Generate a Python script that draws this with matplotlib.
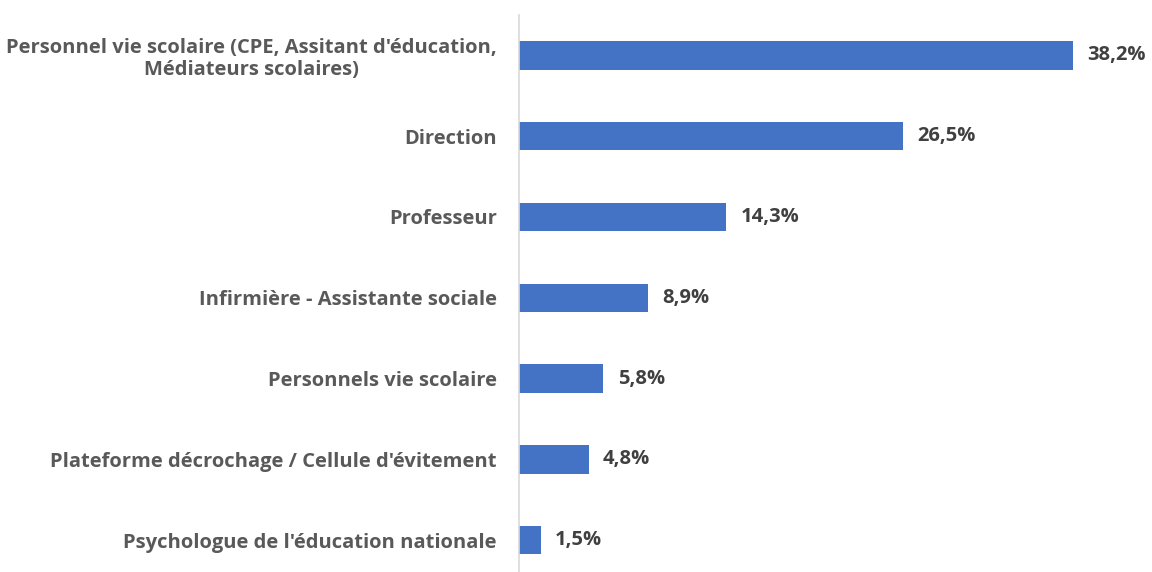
import matplotlib.pyplot as plt

categories = [
    "Personnel vie scolaire (CPE, Assitant d'éducation,\nMédiateurs scolaires)",
    "Direction",
    "Professeur",
    "Infirmière - Assistante sociale",
    "Personnels vie scolaire",
    "Plateforme décrochage / Cellule d'évitement",
    "Psychologue de l'éducation nationale",
]
values = [38.2, 26.5, 14.3, 8.9, 5.8, 4.8, 1.5]
value_labels = ["38,2%", "26,5%", "14,3%", "8,9%", "5,8%", "4,8%", "1,5%"]

plt.rcParams['font.family'] = ['Open Sans', 'DejaVu Sans']

fig = plt.figure(figsize=(11.52, 5.72), dpi=100)
ax = fig.add_axes([0.4505, 0.0, 0.5495, 0.9738])

pos = range(len(categories))
ax.barh(pos, values, height=0.35, color="#4472C4")

for i, (v, lab) in enumerate(zip(values, value_labels)):
    ax.text(v + 1.0, i, lab, va="center", ha="left", fontsize=14.5,
            fontweight="bold", color="#404040")

ax.set_yticks(list(pos))
ax.set_yticklabels(categories, fontsize=14.5, fontweight="bold", color="#595959",
                   multialignment="center", linespacing=1.15)
ax.tick_params(axis="y", length=0, pad=16)
ax.set_xticks([])
ax.set_xlim(0, 43.66)
ax.set_ylim(6.394, -0.5)

for s in ["top", "right", "bottom"]:
    ax.spines[s].set_visible(False)
ax.spines["left"].set_color("#D9D9D9")
ax.spines["left"].set_linewidth(1.2)

fig.savefig("out.png", dpi=100)
